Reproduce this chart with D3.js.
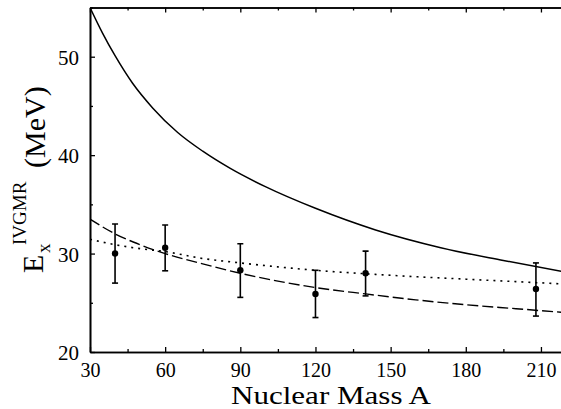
<!DOCTYPE html>
<html>
<head>
<meta charset="utf-8">
<script src="https://cdn.jsdelivr.net/npm/d3@7"></script>
<style>
  html, body { margin: 0; padding: 0; background: #fff; }
  svg { display: block; }
  text { font-family: "Liberation Serif", "Times New Roman", serif; fill: #000; }
</style>
</head>
<body>
<svg id="chart" width="561" height="409"></svg>
<script>
// ---- data ----
const curveA      = [30, 35, 40, 47, 55, 65, 75, 86, 100, 120, 144, 170, 195, 220];
const solidE      = [55, 52.4, 50.1, 47.3, 44.8, 42.3, 40.4, 38.65, 36.8, 34.6, 32.4, 30.6, 29.3, 28.1];
const lineA       = [30, 40, 50, 60, 75, 90, 105, 120, 140, 160, 180, 200, 220];
const dashedE     = [33.5, 32.0, 30.9, 30.0, 28.95, 28.0, 27.2, 26.55, 25.9, 25.3, 24.8, 24.4, 24.0];
const dottedE     = [31.45, 30.9, 30.5, 30.2, 29.5, 29.05, 28.65, 28.3, 27.95, 27.65, 27.4, 27.15, 26.9];
const expA        = [40, 60, 90, 120, 140, 208];
const expE        = [30.0, 30.6, 28.3, 25.9, 28.0, 26.4];
const expLow      = [27.0, 28.25, 25.55, 23.5, 25.7, 23.65];
const expHigh     = [33.0, 32.9, 31.0, 28.3, 30.25, 29.05];
const xTickVals   = [30, 60, 90, 120, 150, 180, 210];
const yTickVals   = [20, 30, 40, 50];

// ---- layout ----
const svg = d3.select("#chart");
const x = d3.scaleLinear().domain([30, 220]).range([90, 566]);
const y = d3.scaleLinear().domain([20, 55]).range([352, 7.5]);

const defs = svg.append("defs");
defs.append("clipPath").attr("id", "plotclip").append("rect")
  .attr("x", x(30)).attr("y", y(55)).attr("width", x(220) - x(30)).attr("height", y(20) - y(55));

const plot = svg.append("g").attr("clip-path", "url(#plotclip)");

const line = (xs, ys) => d3.line()
  .x((d, i) => x(xs[i])).y((d, i) => y(d))
  .curve(d3.curveMonotoneX)(ys);

plot.append("path").attr("d", line(curveA, solidE))
  .attr("fill", "none").attr("stroke", "#000").attr("stroke-width", 1.5);
plot.append("path").attr("d", line(lineA, dashedE))
  .attr("fill", "none").attr("stroke", "#000").attr("stroke-width", 1.4)
  .attr("stroke-dasharray", "11,4");
plot.append("path").attr("d", line(lineA, dottedE))
  .attr("fill", "none").attr("stroke", "#000").attr("stroke-width", 1.6)
  .attr("stroke-dasharray", "2,5");

// error bars
const pts = expA.map((a, i) => ({a, e: expE[i], lo: expLow[i], hi: expHigh[i]}));
const eb = plot.append("g").attr("stroke", "#000").attr("stroke-width", 1.6);
pts.forEach(p => {
  eb.append("line").attr("x1", x(p.a)).attr("x2", x(p.a)).attr("y1", y(p.lo)).attr("y2", y(p.hi));
  eb.append("line").attr("x1", x(p.a) - 3).attr("x2", x(p.a) + 3).attr("y1", y(p.lo)).attr("y2", y(p.lo));
  eb.append("line").attr("x1", x(p.a) - 3).attr("x2", x(p.a) + 3).attr("y1", y(p.hi)).attr("y2", y(p.hi));
});
plot.append("g").selectAll("circle").data(pts).join("circle")
  .attr("cx", d => x(d.a)).attr("cy", d => y(d.e)).attr("r", 3.2).attr("fill", "#000");

// ---- axes (frame with inward ticks) ----
const majorX = d3.range(30, 221, 30), minorX = d3.range(45, 221, 30);
const minorY = d3.range(25, 56, 10);

const gBottom = svg.append("g").attr("transform", `translate(0,${y(20)})`)
  .call(d3.axisBottom(x).tickValues(xTickVals).tickSizeInner(-5).tickSizeOuter(0).tickFormat(d3.format("d")));
const gBottomMinor = svg.append("g").attr("transform", `translate(0,${y(20)})`)
  .call(d3.axisBottom(x).tickValues(minorX).tickSizeInner(-3).tickSizeOuter(0).tickFormat(""));
const gTop = svg.append("g").attr("transform", `translate(0,${y(55)})`)
  .call(d3.axisTop(x).tickValues(majorX).tickSizeInner(-5).tickSizeOuter(0).tickFormat(""));
const gTopMinor = svg.append("g").attr("transform", `translate(0,${y(55)})`)
  .call(d3.axisTop(x).tickValues(minorX).tickSizeInner(-3).tickSizeOuter(0).tickFormat(""));
const gLeft = svg.append("g").attr("transform", `translate(${x(30)},0)`)
  .call(d3.axisLeft(y).tickValues(yTickVals).tickSizeInner(-5).tickSizeOuter(0).tickFormat(d3.format("d")));
const gLeftMinor = svg.append("g").attr("transform", `translate(${x(30)},0)`)
  .call(d3.axisLeft(y).tickValues(minorY).tickSizeInner(-3).tickSizeOuter(0).tickFormat(""));

[gBottom, gBottomMinor, gTop, gTopMinor, gLeft, gLeftMinor].forEach(g => {
  g.selectAll(".domain").attr("stroke", "#000").attr("stroke-width", 1.6);
  g.selectAll(".tick line").attr("stroke", "#000").attr("stroke-width", 1.3);
});
gBottom.selectAll(".tick text")
  .attr("font-size", 20).attr("font-family", "Liberation Serif, serif")
  .attr("dy", null).attr("y", 25);
gLeft.selectAll(".tick text")
  .attr("font-size", 21).attr("font-family", "Liberation Serif, serif")
  .attr("x", -11).attr("dy", "0.36em");

// ---- axis titles ----
svg.append("text").attr("x", 331).attr("y", 403.5).attr("text-anchor", "middle")
  .attr("font-size", 25).attr("textLength", 200).attr("lengthAdjust", "spacingAndGlyphs")
  .text("Nuclear Mass A");

const rot = (tx, ty) => `translate(${tx},${ty}) rotate(-90)`;
svg.append("text").attr("transform", rot(43, 273)).attr("font-size", 30).text("E");
svg.append("text").attr("transform", rot(49.5, 253)).attr("font-size", 19).text("x");
svg.append("text").attr("transform", rot(25.5, 245)).attr("font-size", 19).text("IVGMR");
svg.append("text").attr("transform", rot(45, 168)).attr("font-size", 30).text("(MeV)");
</script>
</body>
</html>
